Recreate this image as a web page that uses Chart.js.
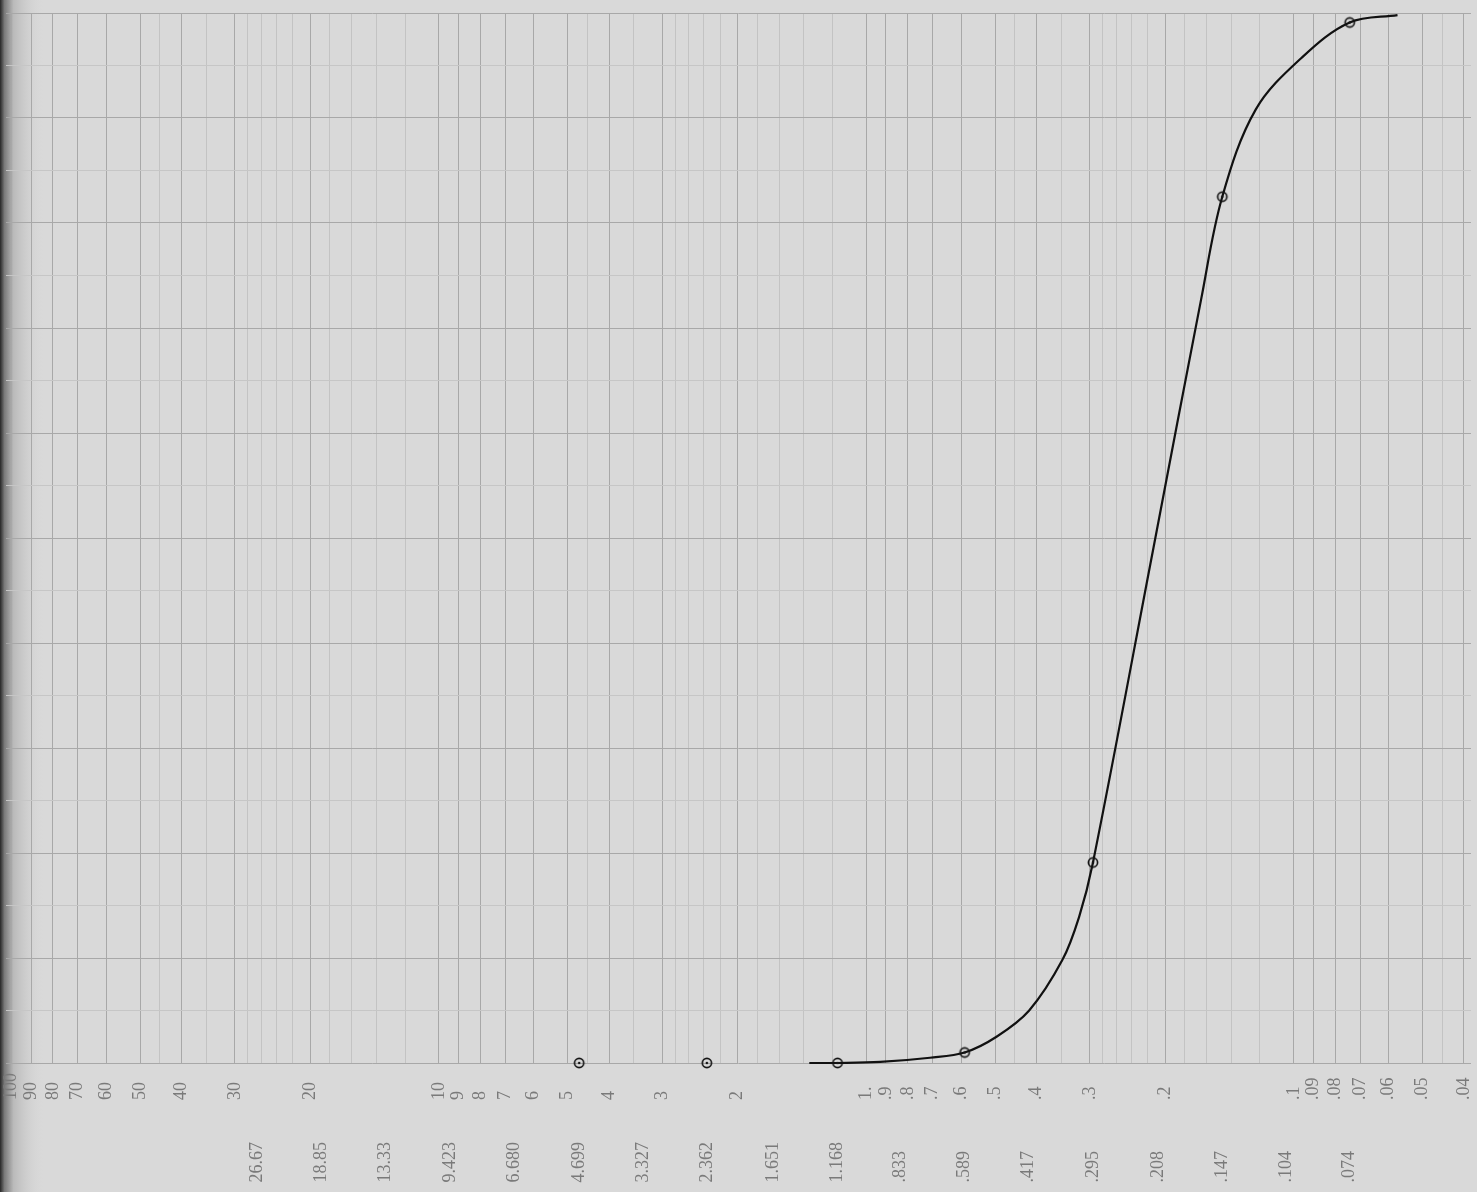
<!DOCTYPE html>
<html>
<head>
<meta charset="utf-8">
<title>Sieve analysis</title>
<script src="https://cdn.jsdelivr.net/npm/chart.js@4.4.1/dist/chart.umd.min.js"></script>
<style>
  html, body { margin: 0; padding: 0; background: #d9d9d9; }
  canvas { display: block; }
</style>
</head>
<body>
<canvas id="chart" width="1477" height="1192"></canvas>
<script>
"use strict";

// sieve openings (mm) that were weighed, and the percent read for each
const sieveSizes = [4.699, 2.362, 1.168, 0.589, 0.295, 0.147, 0.074];
const sievePercent = [0, 0, 0, 1, 19.1, 82.5, 99.1];

// the hand drawn curve
const curveSizes = [1.36, 1.168, 0.928, 0.71, 0.589, 0.496, 0.416, 0.348, 0.318, 0.295,
  0.2129, 0.1648, 0.147, 0.1228, 0.0955, 0.074, 0.0572];
const curvePercent = [0, 0, 0.1, 0.5, 1, 2.5, 5, 9.8, 13.9, 19.1,
  49.1, 72.7, 82.5, 90.8, 95.8, 99.1, 99.8];

// printed scale along the bottom of the paper
const scaleValues = [100, 90, 80, 70, 60, 50, 40, 30, 20, 10, 9, 8, 7, 6, 5, 4, 3, 2, 1,
  0.9, 0.8, 0.7, 0.6, 0.5, 0.4, 0.3, 0.2, 0.1, 0.09, 0.08, 0.07, 0.06, 0.05, 0.04];
const scaleLabels = ['100', '90', '80', '70', '60', '50', '40', '30', '20', '10', '9', '8', '7', '6', '5', '4', '3', '2', '1.',
  '.9', '.8', '.7', '.6', '.5', '.4', '.3', '.2', '.1', '.09', '.08', '.07', '.06', '.05', '.04'];

// Tyler sieve openings written underneath
const meshValues = [26.67, 18.85, 13.33, 9.423, 6.680, 4.699, 3.327, 2.362, 1.651, 1.168,
  0.833, 0.589, 0.417, 0.295, 0.208, 0.147, 0.104, 0.074];
const meshLabels = ['26.67', '18.85', '13.33', '9.423', '6.680', '4.699', '3.327', '2.362', '1.651', '1.168',
  '.833', '.589', '.417', '.295', '.208', '.147', '.104', '.074'];

// finer rulings between the printed numbers
const minorSteps = [1.2, 1.4, 1.6, 1.8, 2.2, 2.4, 2.6, 2.8, 3.5, 4.5];
const decades = [0.01, 0.1, 1, 10];

const xMin = 0.0385;
const xMax = 103;

const gridValues = scaleValues.slice();
decades.forEach(d => {
  minorSteps.forEach(m => {
    const v = +(m * d).toPrecision(6);
    if (v > xMin && v < xMax) gridValues.push(v);
  });
});

function findIndex(list, v) {
  return list.findIndex(item => Math.abs(item - v) / item < 1e-6);
}

// digits are two spaces wide in Liberation Serif, the point one,
// so trailing spaces line the bottoms of the rotated numbers up
function padLabel(text, width) {
  let w = 0;
  for (const c of text) w += c === '.' ? 1 : 2;
  return text + ' '.repeat(Math.max(0, width - w));
}

function ringDot() {
  const c = document.createElement('canvas');
  c.width = 14;
  c.height = 14;
  const g = c.getContext('2d');
  g.strokeStyle = '#151515';
  g.lineWidth = 1.7;
  g.beginPath();
  g.arc(7, 7, 4.6, 0, Math.PI * 2);
  g.stroke();
  g.fillStyle = '#151515';
  g.beginPath();
  g.arc(7, 7, 1.3, 0, Math.PI * 2);
  g.fill();
  return c;
}

const paper = {
  id: 'paper',
  beforeDraw(chart) {
    const { ctx, width, height } = chart;
    ctx.save();
    ctx.fillStyle = '#d9d9d9';
    ctx.fillRect(0, 0, width, height);
    const g = ctx.createLinearGradient(0, 0, 45, 0);
    g.addColorStop(0, '#262626');
    g.addColorStop(0.1, '#7a7a7a');
    g.addColorStop(0.3, '#bababa');
    g.addColorStop(1, 'rgba(217,217,217,0)');
    ctx.fillStyle = g;
    ctx.fillRect(0, 0, 45, height);
    ctx.restore();
  }
};

const labelFont = { family: "'Liberation Serif', 'DejaVu Serif', serif", size: 18 };

new Chart(document.getElementById('chart'), {
  type: 'scatter',
  data: {
    datasets: [
      {
        data: sieveSizes.map((s, i) => ({ x: s, y: sievePercent[i] })),
        pointStyle: ringDot(),
        pointRadius: 5,
        showLine: false
      },
      {
        data: curveSizes.map((s, i) => ({ x: s, y: curvePercent[i] })),
        showLine: true,
        pointRadius: 0,
        borderColor: '#111',
        borderWidth: 2.2,
        tension: 0.35
      }
    ]
  },
  options: {
    responsive: false,
    animation: false,
    devicePixelRatio: 1,
    clip: false,
    layout: { padding: { top: 13, left: 0, right: 0, bottom: 0 } },
    plugins: { legend: { display: false }, tooltip: { enabled: false } },
    scales: {
      x: {
        type: 'logarithmic',
        reverse: true,
        min: xMin,
        max: xMax,
        position: 'bottom',
        weight: 0,
        afterBuildTicks: s => { s.ticks = gridValues.map(v => ({ value: v })); },
        afterFit: s => { s.height = 47; s.paddingLeft = 0; s.paddingRight = 0; },
        border: { display: false },
        grid: {
          drawTicks: false,
          lineWidth: 1,
          color: ctx => findIndex(scaleValues, ctx.tick.value) >= 0 ? '#a8a8a8' : '#c3c3c3'
        },
        ticks: {
          autoSkip: false,
          minRotation: 90,
          maxRotation: 90,
          padding: 10,
          color: '#7a7a7a',
          font: labelFont,
          callback: v => {
            const i = findIndex(scaleValues, v);
            return i >= 0 ? padLabel(scaleLabels[i], 6) : '';
          }
        }
      },
      x2: {
        type: 'logarithmic',
        reverse: true,
        min: xMin,
        max: xMax,
        position: 'bottom',
        weight: 1,
        afterBuildTicks: s => { s.ticks = meshValues.map(v => ({ value: v })); },
        afterFit: s => { s.height = 82; s.paddingLeft = 0; s.paddingRight = 0; },
        border: { display: false },
        grid: { display: false, drawTicks: false },
        ticks: {
          autoSkip: false,
          minRotation: 90,
          maxRotation: 90,
          padding: 32,
          color: '#7a7a7a',
          font: labelFont,
          callback: v => {
            const i = findIndex(meshValues, v);
            return i >= 0 ? padLabel(meshLabels[i], 9) : '';
          }
        }
      },
      y: {
        min: 0,
        max: 100,
        position: 'left',
        afterFit: s => { s.width = 0; },
        border: { display: false },
        ticks: { display: false, stepSize: 5 },
        grid: {
          drawTicks: false,
          color: ctx => ctx.tick.value % 10 === 0 ? '#a8a8a8' : '#c6c6c6'
        }
      }
    }
  },
  plugins: [paper]
});
</script>
</body>
</html>
